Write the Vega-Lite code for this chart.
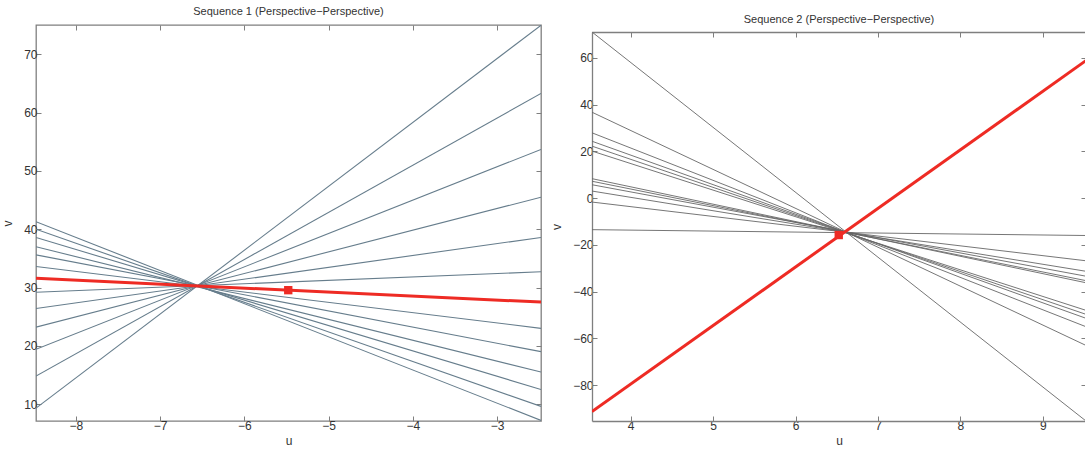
{
  "$schema": "https://vega.github.io/schema/vega-lite/v6.json",
  "padding": {"left": 1, "top": 4, "right": 0, "bottom": 0},
  "background": "white",
  "spacing": 7,
  "config": {
    "view": {"stroke": "#7f7f7f", "strokeWidth": 1.3},
    "axis": {
      "labelFont": "Liberation Sans", "labelFontSize": 12, "labelColor": "#333333",
      "titleFont": "Liberation Sans", "titleFontSize": 12, "titleFontWeight": "normal", "titleColor": "#333333",
      "tickColor": "#7f7f7f", "tickSize": -5, "tickWidth": 1, "domain": false, "grid": false, "labelPadding": 4,
      "domainColor": "#7f7f7f", "domainWidth": 1.3
    },
    "axisY": {"titlePadding": 9},
    "title": {"font": "Liberation Sans", "fontSize": 11, "fontWeight": "normal", "color": "#333333", "offset": 8}
  },
  "datasets": {
    "s1lines": [
      {"line": "a", "u": -8.474, "v": 9.3}, {"line": "a", "u": -2.48, "v": 75.0},
      {"line": "b", "u": -8.474, "v": 14.8}, {"line": "b", "u": -2.48, "v": 63.3},
      {"line": "c", "u": -8.474, "v": 19.4}, {"line": "c", "u": -2.48, "v": 53.7},
      {"line": "d", "u": -8.474, "v": 23.2}, {"line": "d", "u": -2.48, "v": 45.5},
      {"line": "e", "u": -8.474, "v": 26.4}, {"line": "e", "u": -2.48, "v": 38.6},
      {"line": "f", "u": -8.474, "v": 29.2}, {"line": "f", "u": -2.48, "v": 32.7},
      {"line": "g", "u": -8.474, "v": 33.6}, {"line": "g", "u": -2.48, "v": 23.0},
      {"line": "h", "u": -8.474, "v": 35.6}, {"line": "h", "u": -2.48, "v": 19.0},
      {"line": "i", "u": -8.474, "v": 37.0}, {"line": "i", "u": -2.48, "v": 15.5},
      {"line": "j", "u": -8.474, "v": 38.6}, {"line": "j", "u": -2.48, "v": 12.5},
      {"line": "k", "u": -8.474, "v": 40.0}, {"line": "k", "u": -2.48, "v": 9.6},
      {"line": "l", "u": -8.474, "v": 41.3}, {"line": "l", "u": -2.48, "v": 7.2}
    ],
    "s1red": [{"u": -8.474, "v": 31.6}, {"u": -2.48, "v": 27.5}],
    "s1pt": [{"u": -5.48, "v": 29.55}],
    "s2lines": [
      {"line": "a", "u": 3.531, "v": 71.0}, {"line": "a", "u": 9.523, "v": -95.3},
      {"line": "b", "u": 3.531, "v": 36.7}, {"line": "b", "u": 9.523, "v": -63.0},
      {"line": "c", "u": 3.531, "v": 27.9}, {"line": "c", "u": 9.523, "v": -55.0},
      {"line": "d", "u": 3.531, "v": 24.3}, {"line": "d", "u": 9.523, "v": -51.4},
      {"line": "e", "u": 3.531, "v": 22.2}, {"line": "e", "u": 9.523, "v": -49.7},
      {"line": "f", "u": 3.531, "v": 20.1}, {"line": "f", "u": 9.523, "v": -48.0},
      {"line": "g", "u": 3.531, "v": 8.3}, {"line": "g", "u": 9.523, "v": -36.2},
      {"line": "h", "u": 3.531, "v": 7.2}, {"line": "h", "u": 9.523, "v": -35.3},
      {"line": "i", "u": 3.531, "v": 5.7}, {"line": "i", "u": 9.523, "v": -33.4},
      {"line": "j", "u": 3.531, "v": 3.0}, {"line": "j", "u": 9.523, "v": -31.3},
      {"line": "k", "u": 3.531, "v": -1.7}, {"line": "k", "u": 9.523, "v": -26.8},
      {"line": "l", "u": 3.531, "v": -13.5}, {"line": "l", "u": 9.523, "v": -16.0}
    ],
    "s2red": [{"u": 3.531, "v": -91.3}, {"u": 9.523, "v": 58.8}],
    "s2pt": [{"u": 6.524, "v": -15.8}]
  },
  "hconcat": [
    {
      "title": "Sequence 1 (Perspective−Perspective)",
      "width": 505,
      "height": 396,
      "resolve": {"axis": {"x": "independent", "y": "independent"}},
      "layer": [
        {
          "data": {"name": "s1lines"},
          "mark": {"type": "line", "color": "#667d8c", "strokeWidth": 1.1, "clip": true},
          "encoding": {
            "x": {"field": "u", "type": "quantitative", "scale": {"domain": [-8.474, -2.48], "nice": false, "zero": false}, "axis": {"title": "u", "values": [-8, -7, -6, -5, -4, -3], "orient": "bottom"}},
            "y": {"field": "v", "type": "quantitative", "scale": {"domain": [7.1, 75.05], "nice": false, "zero": false}, "axis": {"title": "v", "values": [10, 20, 30, 40, 50, 60, 70], "orient": "left"}},
            "detail": {"field": "line"}
          }
        },
        {
          "data": {"name": "s1red"},
          "mark": {"type": "line", "color": "#ee2b24", "strokeWidth": 3, "clip": true},
          "encoding": {
            "x": {"field": "u", "type": "quantitative", "axis": null},
            "y": {"field": "v", "type": "quantitative", "axis": null}
          }
        },
        {
          "data": {"name": "s1pt"},
          "mark": {"type": "point", "shape": "square", "filled": true, "color": "#ee2b24", "size": 70, "opacity": 1},
          "encoding": {
            "x": {"field": "u", "type": "quantitative", "axis": {"orient": "top", "title": null, "labels": false, "values": [-8, -7, -6, -5, -4, -3]}},
            "y": {"field": "v", "type": "quantitative", "axis": {"orient": "right", "title": null, "labels": false, "values": [10, 20, 30, 40, 50, 60, 70]}}
          }
        }
      ]
    },
    {
      "title": {"text": "Sequence 2 (Perspective−Perspective)", "offset": 0},
      "width": 494,
      "height": 396,
      "view": {"stroke": null},
      "resolve": {"axis": {"x": "independent", "y": "independent"}},
      "layer": [
        {
          "data": {"name": "s2lines"},
          "mark": {"type": "line", "color": "#666666", "strokeWidth": 0.9, "clip": true},
          "encoding": {
            "x": {"field": "u", "type": "quantitative", "scale": {"domain": [3.531, 9.523], "nice": false, "zero": false}, "axis": {"title": "u", "values": [4, 5, 6, 7, 8, 9], "orient": "bottom", "domain": true}},
            "y": {"field": "v", "type": "quantitative", "scale": {"domain": [-95.3, 71.0], "nice": false, "zero": false, "range": [396, 7]}, "axis": {"title": "v", "values": [-80, -60, -40, -20, 0, 20, 40, 60], "orient": "left", "domain": true}},
            "detail": {"field": "line"}
          }
        },
        {
          "data": {"name": "s2red"},
          "mark": {"type": "line", "color": "#ee2b24", "strokeWidth": 3, "clip": true},
          "encoding": {
            "x": {"field": "u", "type": "quantitative", "axis": null},
            "y": {"field": "v", "type": "quantitative", "axis": null}
          }
        },
        {
          "data": {"name": "s2pt"},
          "mark": {"type": "point", "shape": "square", "filled": true, "color": "#ee2b24", "size": 70, "opacity": 1},
          "encoding": {
            "x": {"field": "u", "type": "quantitative", "axis": {"orient": "top", "title": null, "labels": false, "values": [4, 5, 6, 7, 8, 9], "domain": true, "offset": -7}},
            "y": {"field": "v", "type": "quantitative", "axis": {"orient": "right", "title": null, "labels": false, "values": [-80, -60, -40, -20, 0, 20, 40, 60], "domain": true}}
          }
        }
      ]
    }
  ]
}
